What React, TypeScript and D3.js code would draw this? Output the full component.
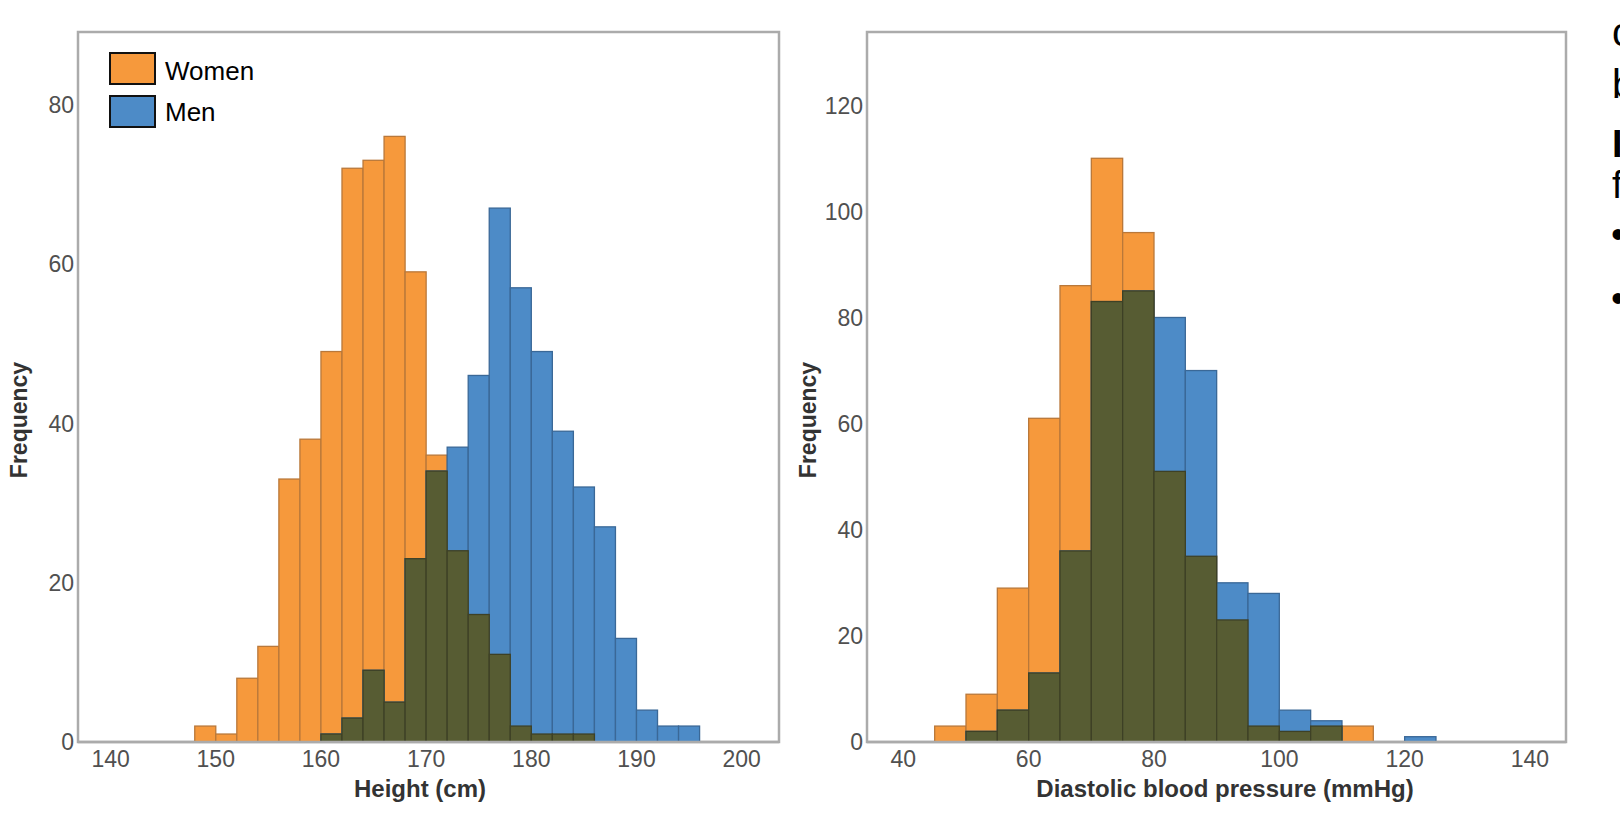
import React from "react";
import * as d3 from "d3";

// ---- Data ----
const heightBinStarts = [148,150,152,154,156,158,160,162,164,166,168,170,172,174,176,178,180,182,184,186,188,190,192,194];
const heightWomen =     [2,  1,  8,  12, 33, 38, 49, 72, 73, 76, 59, 36, 24, 16, 11, 2,  1,  1,  1,  0,  0,  0,  0,  0];
const heightMen =       [0,  0,  0,  0,  0,  0,  1,  3,  9,  5,  23, 34, 37, 46, 67, 57, 49, 39, 32, 27, 13, 4,  2,  2];
const heightBinWidth = 2;
const heightXTicks = [140,150,160,170,180,190,200];
const heightYTicks = [0,20,40,60,80];

const bpBinStarts = [45,50,55,60,65,70,75,80,85,90,95,100,105,110,115,120];
const bpWomen =     [3, 9, 29,61,86,110,96,51,35,23,3, 2,  3,  3,  0,  0];
const bpMen =       [0, 2, 6, 13,36,83, 85,80,70,30,28,6,  4,  0,  0,  1];
const bpBinWidth = 5;
const bpXTicks = [40,60,80,100,120,140];
const bpYTicks = [0,20,40,60,80,100,120];

const legendLabels = ["Women", "Men"];
const sideLetters = ["c", "b", "I", "f"];

const ORANGE = "#f6993c";
const ORANGE_STROKE = "#b9783a";
const BLUE = "#4d8bc7";
const BLUE_STROKE = "#3a6897";
const OLIVE = "#575c33";
const OLIVE_STROKE = "#3e4126";
const FRAME = "#ababab";
const FONT = "'Liberation Sans', Arial, Helvetica, sans-serif";

type PanelProps = {
  left: number; right: number; top: number; bottom: number;
  xDomain: [number, number]; yDomain: [number, number];
  binStarts: number[]; binWidth: number; women: number[]; men: number[];
  xTicks: number[]; yTicks: number[];
  xTitle: string; xTitleX: number; yTitleX: number;
};

function Panel(p: PanelProps) {
  const x = d3.scaleLinear().domain(p.xDomain).range([p.left, p.right]);
  const y = d3.scaleLinear().domain(p.yDomain).range([p.bottom, p.top]);
  const bars = p.binStarts.map((s, i) => ({ s, w: p.women[i], m: p.men[i] }));
  const rect = (s: number, v: number, fill: string, stroke: string, key: string) =>
    v > 0 ? (
      <rect key={key} x={x(s)} y={y(v)} width={x(s + p.binWidth) - x(s)} height={y(0) - y(v)}
        fill={fill} stroke={stroke} strokeWidth={1.3} />
    ) : null;
  const midY = (p.top + p.bottom) / 2;
  return (
    <g>
      <rect x={p.left} y={p.top} width={p.right - p.left} height={p.bottom - p.top}
        fill="#fff" stroke={FRAME} strokeWidth={2.5} />
      {bars.map((b, i) => rect(b.s, b.w, ORANGE, ORANGE_STROKE, "w" + i))}
      {bars.map((b, i) => rect(b.s, b.m, BLUE, BLUE_STROKE, "m" + i))}
      {bars.map((b, i) => rect(b.s, Math.min(b.w, b.m), OLIVE, OLIVE_STROKE, "o" + i))}
      <line x1={p.left} x2={p.right} y1={p.bottom} y2={p.bottom} stroke={FRAME} strokeWidth={2.5} />
      {p.yTicks.map((t) => (
        <text key={"y" + t} x={p.left - 4} y={y(t)} dy="0.36em" textAnchor="end"
          fontFamily={FONT} fontSize={23} fill="#505050">{t}</text>
      ))}
      {p.xTicks.map((t) => (
        <text key={"x" + t} x={x(t)} y={767} textAnchor="middle"
          fontFamily={FONT} fontSize={23} fill="#505050">{t}</text>
      ))}
      <text x={p.xTitleX} y={797} textAnchor="middle" fontFamily={FONT} fontSize={24}
        fontWeight="bold" fill="#333">{p.xTitle}</text>
      <text transform={`translate(${p.yTitleX},${midY + 33}) rotate(-90)`} textAnchor="middle"
        fontFamily={FONT} fontSize={23} fontWeight="bold" fill="#333">Frequency</text>
    </g>
  );
}

export default function App() {
  return (
    <svg width={1620} height={820} viewBox="0 0 1620 820"
      style={{ position: "fixed", left: 0, top: 0, background: "#fff" }}>
      <rect x={0} y={0} width={1620} height={820} fill="#fff" />
      <Panel left={78} right={779} top={32} bottom={742}
        xDomain={[136.9, 203.55]} yDomain={[0, 89.1]}
        binStarts={heightBinStarts} binWidth={heightBinWidth} women={heightWomen} men={heightMen}
        xTicks={heightXTicks} yTicks={heightYTicks}
        xTitle="Height (cm)" xTitleX={420} yTitleX={27} />
      <Panel left={867} right={1566} top={32} bottom={742}
        xDomain={[34.2, 145.75]} yDomain={[0, 133.8]}
        binStarts={bpBinStarts} binWidth={bpBinWidth} women={bpWomen} men={bpMen}
        xTicks={bpXTicks} yTicks={bpYTicks}
        xTitle="Diastolic blood pressure (mmHg)" xTitleX={1225} yTitleX={816} />
      {/* Legend */}
      {legendLabels.map((l, i) => (
        <g key={l}>
          <rect x={110} y={53 + i * 43} width={45} height={31}
            fill={i === 0 ? ORANGE : BLUE} stroke="#111" strokeWidth={2} />
          <text x={165} y={80 + i * 41} fontFamily={FONT} fontSize={26} fill="#000">{l}</text>
        </g>
      ))}
      {/* Cut-off side text at right edge */}
      <text x={1612} y={46} fontFamily={FONT} fontSize={40} fill="#000">{sideLetters[0]}</text>
      <text x={1612} y={98} fontFamily={FONT} fontSize={40} fill="#000">{sideLetters[1]}</text>
      <text x={1612} y={157} fontFamily={FONT} fontSize={38} fontWeight="bold" fill="#000">{sideLetters[2]}</text>
      <text x={1612} y={198} fontFamily={FONT} fontSize={38} fill="#000">{sideLetters[3]}</text>
      <text x={1611} y={248} fontFamily={FONT} fontSize={40} fill="#000">•</text>
      <text x={1611} y={312} fontFamily={FONT} fontSize={40} fill="#000">•</text>
    </svg>
  );
}
